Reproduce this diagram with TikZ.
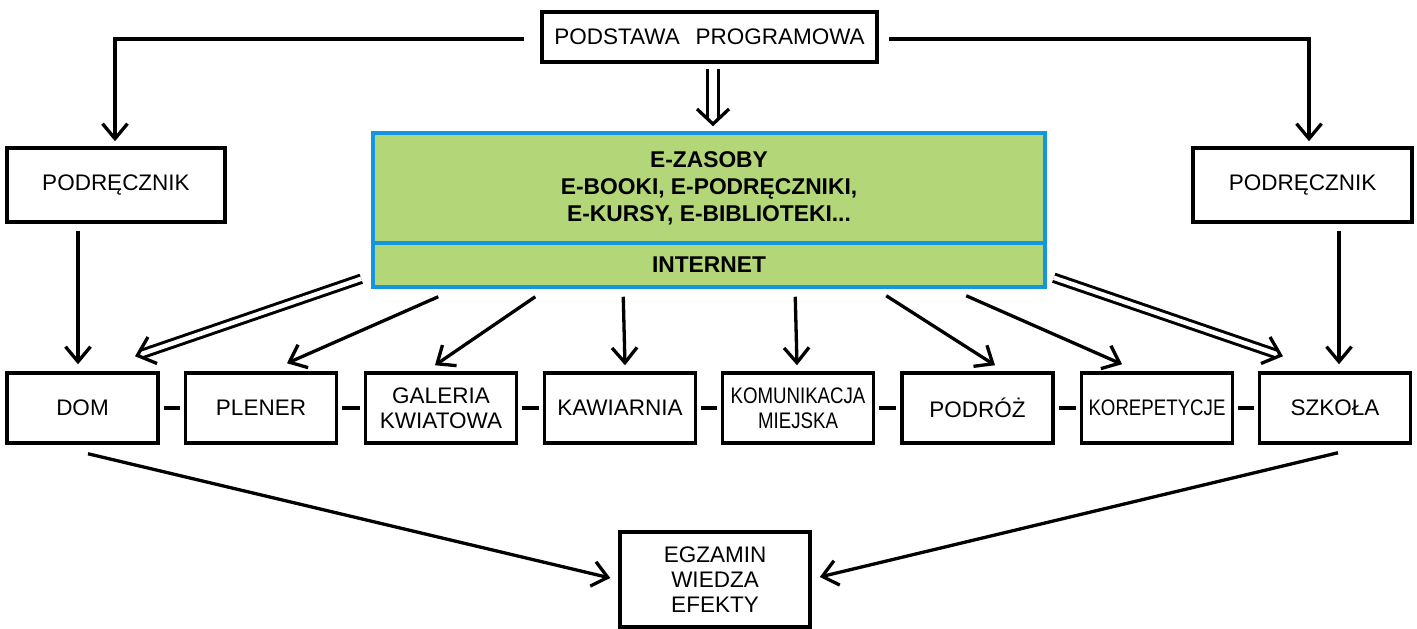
\documentclass[tikz,border=0pt]{standalone}
\usepackage{fontspec}
\setmainfont{Liberation Sans}
\usetikzlibrary{arrows.meta,calc}
\definecolor{egreen}{RGB}{178,214,120}
\definecolor{eblue}{RGB}{20,150,220}
\tikzset{
 box/.style={draw=black, line width=3.5pt, fill=white, inner sep=0pt, align=center,
   font=\fontsize{22.5}{25}\selectfont, minimum width=151pt, minimum height=70pt},
 gbox/.style={draw=eblue, line width=3.5pt, fill=egreen, inner sep=0pt, align=center,
   font=\bfseries\fontsize{22.8}{27}\selectfont, minimum width=672pt},
 arr/.style={line width=3.3pt, -{Straight Barb[length=15pt,width=25pt]}},
 dbl/.style={line width=3pt, double, double distance=4.5pt, shorten >=6pt},
 tipd/.style={line width=3.3pt, -{Straight Barb[length=16pt,width=28pt]}},
 link/.style={line width=4.5pt, shorten <=4pt, shorten >=4pt},
}
\begin{document}
\begin{tikzpicture}[x=1pt,y=-1pt]
\useasboundingbox (0,0) rectangle (1417,629);
% top
\node[box, minimum width=335pt, minimum height=50pt] (pp) at (709.5,37) {PODSTAWA\hspace{0.7em}PROGRAMOWA};
\node[box, minimum width=218pt, minimum height=74pt] (podl) at (116,185) {PODRĘCZNIK};
\node[box, minimum width=219pt, minimum height=74pt] (podr) at (1302.5,185) {PODRĘCZNIK};
% green block
\node[gbox, minimum height=110pt] (ez) at (709,188) {E-ZASOBY\\E-BOOKI, E-PODRĘCZNIKI,\\E-KURSY, E-BIBLIOTEKI...};
\node[gbox, minimum height=44pt] (inet) at (709,265) {INTERNET};
% bottom row
\node[box] (dom) at (82.5,408) {DOM};
\node[box] (plener) at (261,408) {PLENER};
\node[box] (galeria) at (441,408) {GALERIA\\KWIATOWA};
\node[box] (kaw) at (620,408) {KAWIARNIA};
\node[box] (kom) at (798,408) {\scalebox{0.83}[1]{KOMUNIKACJA}\\\scalebox{0.83}[1]{MIEJSKA}};
\node[box] (podroz) at (977.5,408) {PODRÓŻ};
\node[box] (korep) at (1157,408) {\scalebox{0.83}[1]{KOREPETYCJE}};
\node[box] (szkola) at (1335,408) {SZKOŁA};
\node[box, minimum width=190pt, minimum height=95pt] (egz) at (715,579.5) {EGZAMIN\\WIEDZA\\EFEKTY};
% links between bottom boxes
\foreach \a/\b in {dom/plener, plener/galeria, galeria/kaw, kaw/kom, kom/podroz, podroz/korep, korep/szkola}
  \draw[link] (\a.east) -- (\b.west);
% top connectors
\draw[arr] ($(pp.west)+(-16,2)$) -| ($(podl.north)+(-1,-5)$);
\draw[arr] ($(pp.east)+(10,2)$) -| ($(podr.north)+(6.5,-5)$);
% double arrow from PODSTAWA
\coordinate (d0a) at ($(pp.south)+(3.5,5)$);
\coordinate (d0b) at ($(ez.north)+(4,-5)$);
\draw[dbl, double distance=8pt] (d0a) -- (d0b);
\draw[line width=3.3pt, -{Straight Barb[length=15pt,width=32pt]}] ($(d0b)!3pt!(d0a)$) -- (d0b);
% double arrows to DOM and SZKOLA
\coordinate (d1a) at ($(inet.south west)+(-10,-10)$);
\coordinate (d1b) at ($(dom.north)+(52.5,-15)$);
\draw[dbl] (d1a) -- (d1b);
\draw[tipd] ($(d1b)!3pt!(d1a)$) -- (d1b);
\coordinate (d2a) at ($(inet.south east)+(7,-11)$);
\coordinate (d2b) at ($(szkola.north)+(-52,-15)$);
\draw[dbl] (d2a) -- (d2b);
\draw[tipd] ($(d2b)!3pt!(d2a)$) -- (d2b);
% single arrows from the green block
\draw[arr] ($(inet.south west)+(67,8)$) -- ($(plener.north)+(26,-8)$);
\draw[arr] ($(inet.south west)+(164,8)$) -- ($(galeria.north)+(-6,-6)$);
\draw[arr] ($(inet.south west)+(252,8)$) -- ($(kaw.north)+(5,-6)$);
\draw[arr] ($(inet.south west)+(424,8)$) -- ($(kom.north)+(-1,-6)$);
\draw[arr] ($(inet.south west)+(515,7)$) -- ($(podroz.north)+(17.5,-6)$);
\draw[arr] ($(inet.south west)+(595,7)$) -- ($(korep.north)+(-35,-7)$);
% PODRECZNIK down
\draw[arr] ($(podl.south)+(-38,7)$) -- ($(dom.north)+(-4.5,-7)$);
\draw[arr] ($(podr.south)+(36.5,7)$) -- ($(szkola.north)+(4,-7)$);
% to EGZAMIN
\draw[arr] ($(dom.south)+(5.5,9)$) -- ($(egz.west)+(-8,-1.5)$);
\draw[arr] ($(szkola.south)+(3,8)$) -- ($(egz.east)+(8,-2.5)$);
\end{tikzpicture}
\end{document}
